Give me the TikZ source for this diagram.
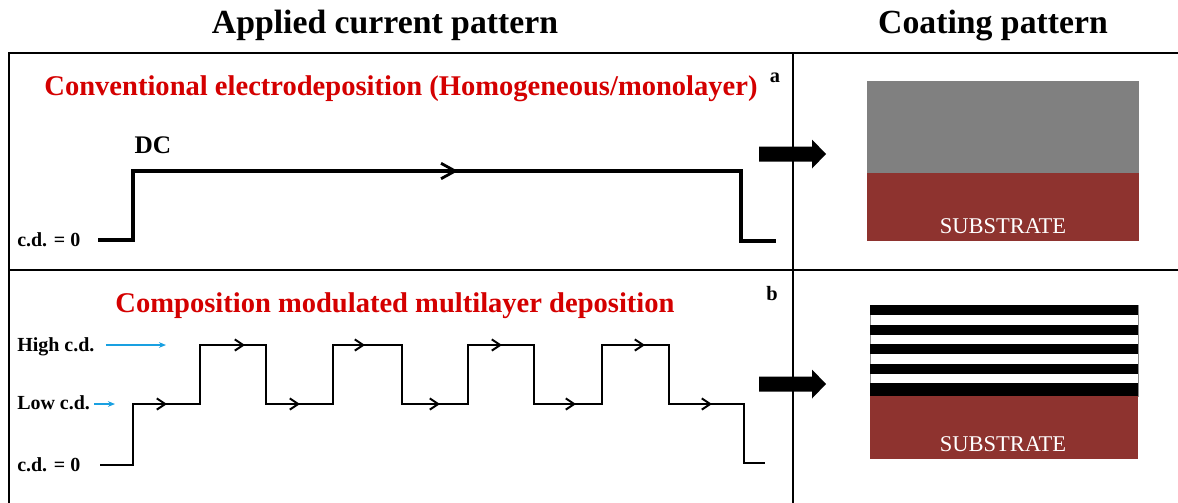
\documentclass[tikz,border=0pt]{standalone}
\usepackage{fontspec}
\setmainfont{Liberation Serif}
\usetikzlibrary{arrows,arrows.meta,shapes}
\definecolor{headred}{RGB}{212,0,0}
\definecolor{substrate}{RGB}{142,51,47}
\definecolor{coatgrey}{RGB}{128,128,128}
\definecolor{cdblue}{RGB}{25,160,225}
\tikzstyle{frame}=[draw, line width=1.5pt]
\tikzstyle{title}=[font=\bfseries\fontsize{24}{28}\selectfont, anchor=base]
\tikzstyle{heading}=[font=\bfseries\fontsize{20.3}{24}\selectfont, text=headred, anchor=base, inner sep=0pt]
\tikzstyle{cdlabel}=[font=\bfseries\fontsize{14.2}{17}\selectfont, anchor=base west, inner sep=0pt]
\tikzstyle{panel}=[font=\bfseries\fontsize{14.5}{17}\selectfont, anchor=base, inner sep=0pt]
\tikzstyle{subtext}=[font=\fontsize{16}{19}\selectfont, text=white, anchor=base, inner sep=0pt]
\tikzstyle{wave}=[draw, line width=2.6pt, line join=miter]
\tikzstyle{thin wave}=[wave, line width=2pt]
\tikzstyle{flow}=[wave, -{Straight Barb[length=10pt,width=11pt,line width=2pt]}]
\tikzstyle{thin flow}=[thin wave, -{Straight Barb[length=6pt,width=8pt,line width=1.4pt]}]
\tikzstyle{cdarrow}=[draw=cdblue, line width=0.9pt, -{Stealth[length=5pt,width=4pt]}]

\begin{document}
\begin{tikzpicture}[x=0.025cm, y=-0.025cm]
    \useasboundingbox (0,0) rectangle (1178,502);
    % Outer frame and the two panels
    \draw[frame] (9,53) rectangle (1190,515);
    \draw[frame] (9,270) -- (1190,270);
    \draw[frame] (793,53) -- (793,515);

    % Column titles
    \node[title] (applied) at (385,33) {Applied current pattern};
    \node[title] (coating) at (993,33) {Coating pattern};

    % Panel a: DC plating
    \node[heading] (conv) at (401,95) {Conventional electrodeposition (Homogeneous/monolayer)};
    \node[panel] (a) at (775,82) {a};
    \node[panel, font=\bfseries\fontsize{18}{21}\selectfont] (dc) at (153,153) {DC};
    \node[cdlabel] (zeroa) at (17,246) {c.d. = 0};
    \path[wave] (98,240) -- (133,240) -- (133,171) -- (741,171) -- (741,241) -- (776,241);
    \path[flow] (133,171) -- (458,171);

    % Panel b: pulsed plating
    \node[heading] (cmm) at (395,312) {Composition modulated multilayer deposition};
    \node[panel] (b) at (772,300) {b};
    \node[cdlabel] (high) at (17,351) {High c.d.};
    \node[cdlabel] (low) at (17,409) {Low c.d.};
    \node[cdlabel] (zerob) at (17,471) {c.d. = 0};
    \coordinate (highend) at (166,345);
    \coordinate (lowend) at (115,404);
    \draw[cdarrow, shorten <=8pt] (high.east |- highend) -- (highend);
    \draw[cdarrow, shorten <=3pt] (low.east |- lowend) -- (lowend);
    \path[thin wave] (100,465) -- (133,465) -- (133,404) -- (200,404) -- (200,345)
        -- (266,345) -- (266,404) -- (333,404) -- (333,345) -- (402,345) -- (402,404)
        -- (468,404) -- (468,345) -- (534,345) -- (534,404) -- (602,404) -- (602,345)
        -- (669,345) -- (669,404) -- (744,404) -- (744,463) -- (765,463);
    \foreach \s/\t/\y in {133/167/404, 200/245/345, 266/300/404, 333/365/345, 402/440/404,
                          468/502/345, 534/576/404, 602/645/345, 669/712/404}
        \path[thin flow] (\s,\y) -- (\t,\y);

    % Block arrows between the columns
    \foreach \c in {154,384}
        \fill (759,\c-7.5) -- (812,\c-7.5) -- (812,\c-14.5) -- (826,\c)
            -- (812,\c+14.5) -- (812,\c+7.5) -- (759,\c+7.5) -- cycle;

    % Coating a: monolayer on substrate
    \fill[coatgrey] (867,81) rectangle (1139,173);
    \fill[substrate] (867,173) rectangle (1139,241);
    \node[subtext] (suba) at (1003,233) {SUBSTRATE};

    % Coating b: multilayer on substrate
    \filldraw[fill=white, draw=black!45, line width=0.5pt] (870,305) rectangle (1138,396);
    \foreach \i in {0,...,3}
        \fill (870,305+19.5*\i) rectangle (1138,315+19.5*\i);
    \fill (870,383) rectangle (1138,396);
    \fill[substrate] (870,396) rectangle (1138,459);
    \node[subtext] (subb) at (1003,451) {SUBSTRATE};
\end{tikzpicture}
\end{document}
